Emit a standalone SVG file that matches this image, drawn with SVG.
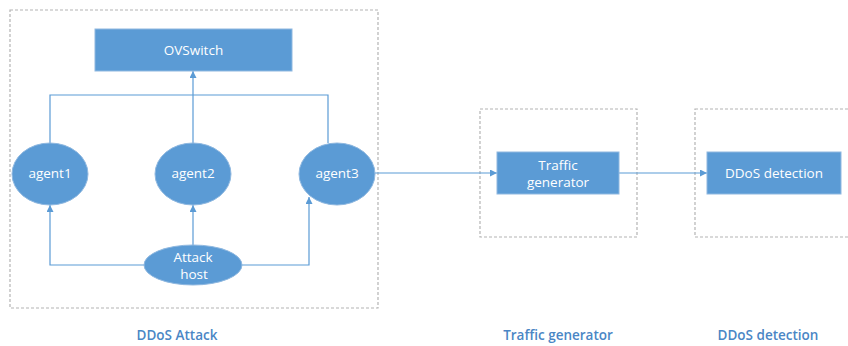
<svg xmlns="http://www.w3.org/2000/svg" width="848" height="346" viewBox="0 0 848 346">
<style>
.grp{fill:none;stroke:#b4b4b4;stroke-width:1.2;stroke-dasharray:3 2}
.node{fill:#5b9bd5;stroke:#8fb8e0;stroke-width:1}
.lbl{fill:#ffffff;font-family:"Open Sans","DejaVu Sans",sans-serif;font-size:13.5px;text-anchor:middle}
.cap{fill:#4a86c5;font-family:"Open Sans","Liberation Sans",sans-serif;font-size:13.5px;font-weight:600;text-anchor:middle}
.edge{fill:none;stroke:#5b9bd5;stroke-width:1.2}
</style>
<defs>
<marker id="ah" viewBox="0 0 10 10" refX="10" refY="5" markerWidth="7" markerHeight="7" markerUnits="userSpaceOnUse" orient="auto">
<path d="M0,0 L10,5 L0,10 z" fill="#5b9bd5"/>
</marker>
</defs>
<rect width="848" height="346" fill="#ffffff"/>
<g id="groups">
<rect class="grp" x="10" y="10" width="368" height="298"/>
<rect class="grp" x="480" y="109" width="157" height="128"/>
<rect class="grp" x="695" y="109" width="160" height="128"/>
</g>
<g id="connectors">
<path class="edge" d="M50,143 V95 H328 V143"/>
<path class="edge" d="M193,143 V71" marker-end="url(#ah)"/>
<path class="edge" d="M144,265 H50 V205" marker-end="url(#ah)"/>
<path class="edge" d="M193,245 V205" marker-end="url(#ah)"/>
<path class="edge" d="M242,265 H309 V197" marker-end="url(#ah)"/>
<path class="edge" d="M375,173 H497" marker-end="url(#ah)"/>
<path class="edge" d="M619,173 H707" marker-end="url(#ah)"/>
</g>
<g id="ovswitch">
<rect class="node" x="95" y="29" width="197" height="42"/>
<text class="lbl" x="193.5" y="55">OVSwitch</text>
</g>
<g id="agent1">
<ellipse class="node" cx="50" cy="174" rx="38" ry="31"/>
<text class="lbl" x="50" y="178">agent1</text>
</g>
<g id="agent2">
<ellipse class="node" cx="193" cy="174" rx="38" ry="31"/>
<text class="lbl" x="193" y="178">agent2</text>
</g>
<g id="agent3">
<ellipse class="node" cx="337" cy="174" rx="38" ry="31"/>
<text class="lbl" x="337" y="178">agent3</text>
</g>
<g id="attack-host">
<ellipse class="node" cx="193" cy="265" rx="49" ry="20"/>
<text class="lbl" x="193" y="262">Attack</text>
<text class="lbl" x="194" y="279">host</text>
</g>
<g id="traffic-generator">
<rect class="node" x="497" y="152" width="122" height="42"/>
<text class="lbl" x="558" y="170">Traffic</text>
<text class="lbl" x="558" y="187">generator</text>
</g>
<g id="ddos-detection">
<rect class="node" x="707" y="152" width="134" height="42"/>
<text class="lbl" x="774" y="178">DDoS detection</text>
</g>
<g id="captions">
<text class="cap" x="177" y="340">DDoS Attack</text>
<text class="cap" x="558" y="340">Traffic generator</text>
<text class="cap" x="768" y="340">DDoS detection</text>
</g>
</svg>
